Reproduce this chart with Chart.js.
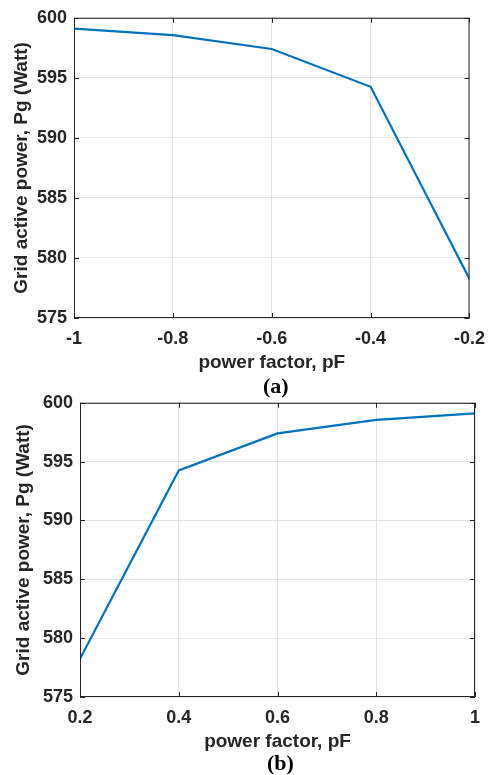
<!DOCTYPE html>
<html>
<head>
<meta charset="utf-8">
<script src="https://cdn.jsdelivr.net/npm/chart.js@4"></script>
<style>
  body { margin: 0; background: #fff; }
  #wrap { position: relative; width: 495px; height: 775px; }
  canvas { position: absolute; left: 0; }
  .cap { position: absolute; left: 0; font: bold 22px "Liberation Serif", "Times New Roman", serif; color: #000; }
</style>
</head>
<body>
<div id="wrap">
  <canvas id="chartA" width="495" height="385" style="top:0"></canvas>
  <canvas id="chartB" width="495" height="385" style="top:385px"></canvas>
  <div class="cap" id="capA" style="top:373px; left:263px">(a)</div>
  <div class="cap" id="capB" style="top:750px; left:267px">(b)</div>
</div>
<script>
// (a) negative power factor
const pfA = [-1, -0.8, -0.6, -0.4, -0.2];
const pgA = [599.1, 598.55, 597.4, 594.25, 578.25];
const xTicksA = ['-1', '-0.8', '-0.6', '-0.4', '-0.2'];

// (b) positive power factor
const pfB = [0.2, 0.4, 0.6, 0.8, 1];
const pgB = [578.25, 594.25, 597.4, 598.55, 599.1];
const xTicksB = ['0.2', '0.4', '0.6', '0.8', '1'];

const yTicks = [575, 580, 585, 590, 595, 600];

const ink = '#262626';
const tickFont = { family: '"Liberation Sans", Arial, sans-serif', size: 18, weight: 'bold' };
const titleFont = { family: '"Liberation Sans", Arial, sans-serif', size: 19, weight: 'bold' };

// matlab style box with inward ticks
const boxPlugin = {
  id: 'box',
  afterDraw(chart) {
    const { ctx, chartArea: a, scales } = chart;
    ctx.save();
    ctx.strokeStyle = ink;
    ctx.lineWidth = 1;
    ctx.strokeRect(a.left + 0.5, a.top + 0.5, a.right - a.left - 1, a.bottom - a.top - 1);
    ctx.beginPath();
    scales.x.ticks.forEach(t => {
      const x = Math.round(scales.x.getPixelForValue(t.value)) + 0.5;
      ctx.moveTo(x, a.bottom); ctx.lineTo(x, a.bottom - 5);
      ctx.moveTo(x, a.top); ctx.lineTo(x, a.top + 5);
    });
    scales.y.ticks.forEach(t => {
      const y = Math.round(scales.y.getPixelForValue(t.value)) + 0.5;
      ctx.moveTo(a.left, y); ctx.lineTo(a.left + 5, y);
      ctx.moveTo(a.right, y); ctx.lineTo(a.right - 5, y);
    });
    ctx.stroke();
    ctx.restore();
  }
};

function makeChart(id, xs, ys, xLabels, opt) {
  return new Chart(document.getElementById(id), {
    type: 'line',
    data: {
      datasets: [{
        data: xs.map((x, i) => ({ x: x, y: ys[i] })),
        borderColor: '#0072BD',
        borderWidth: 2.2,
        pointRadius: 0,
        tension: 0,
        fill: false
      }]
    },
    options: {
      responsive: false,
      animation: false,
      layout: { padding: { top: opt.top, right: 20, left: 0, bottom: 0 } },
      plugins: { legend: { display: false }, tooltip: { enabled: false } },
      scales: {
        x: {
          type: 'linear',
          min: xs[0],
          max: xs[xs.length - 1],
          afterBuildTicks: s => { s.ticks = xs.map(v => ({ value: v })); },
          afterFit: s => { s.height = opt.xH; },
          grid: { color: '#e3e3e3', drawTicks: false },
          border: { display: false },
          ticks: {
            padding: 10,
            color: ink,
            font: tickFont,
            maxRotation: 0,
            callback: (v, i) => xLabels[i]
          },
          title: {
            display: true,
            text: 'power factor, pF',
            color: ink,
            font: titleFont,
            padding: { top: 0, bottom: opt.xTitlePad }
          }
        },
        y: {
          min: 575,
          max: 600,
          afterBuildTicks: s => { s.ticks = yTicks.map(v => ({ value: v })); },
          afterFit: s => { s.width = opt.yW; },
          grid: { color: '#e3e3e3', drawTicks: false },
          border: { display: false },
          ticks: {
            padding: 7,
            color: ink,
            font: tickFont,
            callback: (v, i) => String(yTicks[i])
          },
          title: {
            display: true,
            text: 'Grid active power, Pg (Watt)',
            color: ink,
            font: titleFont,
            padding: { top: opt.yTitlePad, bottom: 0 }
          }
        }
      }
    },
    plugins: [boxPlugin]
  });
}

makeChart('chartA', pfA, pgA, xTicksA, { top: 15, xH: 67, yW: 74, xTitlePad: 10.6, yTitlePad: 10 });
makeChart('chartB', pfB, pgB, xTicksB, { top: 14, xH: 73, yW: 80, xTitlePad: 16.6, yTitlePad: 12 });
</script>
</body>
</html>
